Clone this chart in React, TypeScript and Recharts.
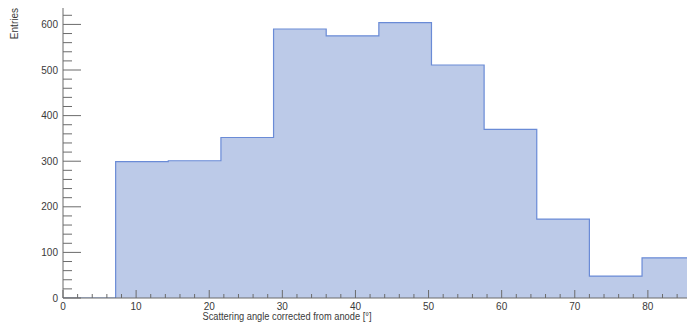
import React from "react";
import { ComposedChart, Area, XAxis, YAxis } from "recharts";

// histogram bins: lower edges in degrees and the entries in each bin
const binEdges = [0, 7.2, 14.4, 21.6, 28.8, 36, 43.2, 50.4, 57.6, 64.8, 72, 79.2, 86.4];
const binWidth = 7.2;
const entries = [0, 299, 301, 352, 590, 575, 604, 511, 370, 173, 48, 88, 0];

const xTicks = [0, 2, 4, 6, 8, 10, 12, 14, 16, 18, 20, 22, 24, 26, 28, 30, 32, 34, 36, 38, 40, 42, 44, 46, 48, 50, 52, 54, 56, 58, 60, 62, 64, 66, 68, 70, 72, 74, 76, 78, 80, 82, 84, 86, 88];
const yTicks = [0, 20, 40, 60, 80, 100, 120, 140, 160, 180, 200, 220, 240, 260, 280, 300, 320, 340, 360, 380, 400, 420, 440, 460, 480, 500, 520, 540, 560, 580, 600, 620];

// one point per bin edge, plus a closing point so the last step is drawn
const histData = [
  ...binEdges.map((x, i) => ({ x, count: entries[i] })),
  { x: binEdges[binEdges.length - 1] + binWidth, count: entries[entries.length - 1] },
];

const TEXT = "#3a3a3a";
const AXIS = "#6b6b6b";
const FONT = "'Liberation Sans', Arial, sans-serif";

// ROOT-style ticks: drawn inward from the axis line, labels only on major ticks
const XTick = (props: any) => {
  const { x, y, payload } = props;
  const v = payload.value as number;
  const major = v % 10 === 0;
  return (
    <g>
      <line x1={x} x2={x} y1={y} y2={y - (major ? 8 : 4)} stroke={AXIS} strokeWidth={1} />
      {major && (
        <text x={x} y={y + 12} textAnchor="middle" fontSize={10} fill={TEXT} fontFamily={FONT}>
          {v}
        </text>
      )}
    </g>
  );
};

const YTick = (props: any) => {
  const { x, y, payload } = props;
  const v = payload.value as number;
  const major = v % 100 === 0;
  return (
    <g>
      <line x1={x} x2={x + (major ? 18 : 9)} y1={y} y2={y} stroke={AXIS} strokeWidth={1} />
      {major && (
        <text x={x - 5} y={y + 3.5} textAnchor="end" fontSize={10} fill={TEXT} fontFamily={FONT}>
          {v}
        </text>
      )}
    </g>
  );
};

export default function App() {
  return (
    <div
      style={{
        position: "fixed",
        left: 0,
        top: 0,
        width: 687,
        height: 326,
        overflow: "hidden",
        background: "#fff",
      }}
    >
      <ComposedChart
        width={740}
        height={326}
        data={histData}
        margin={{ top: 8, right: 19, bottom: 0, left: 8 }}
      >
        <XAxis
          xAxisId="frame"
          orientation="top"
          type="number"
          dataKey="x"
          domain={[0, 90]}
          height={0}
          tick={false}
          tickLine={false}
          axisLine={{ stroke: "#9a9a9a" }}
        />
        <XAxis
          type="number"
          dataKey="x"
          domain={[0, 90]}
          ticks={xTicks}
          interval={0}
          tickSize={0}
          tickMargin={0}
          tickLine={false}
          tick={<XTick />}
          axisLine={{ stroke: AXIS }}
          height={28}
          allowDataOverflow
        />
        <YAxis
          type="number"
          domain={[0, 636]}
          ticks={yTicks}
          interval={0}
          tickSize={0}
          tickMargin={0}
          tickLine={false}
          tick={<YTick />}
          axisLine={{ stroke: AXIS }}
          width={55}
          allowDataOverflow
        />
        <Area
          type="stepAfter"
          dataKey="count"
          stroke="#6a8bd6"
          strokeWidth={1.2}
          fill="#bccae8"
          fillOpacity={1}
          isAnimationActive={false}
          dot={false}
          activeDot={false}
        />
        <text
          x={287}
          y={320}
          textAnchor="middle"
          fontSize={10}
          fill={TEXT}
          fontFamily={FONT}
          textLength={169}
          lengthAdjust="spacingAndGlyphs"
        >
          Scattering angle corrected from anode [°]
        </text>
        <text
          x={18}
          y={8}
          transform="rotate(-90 18 8)"
          textAnchor="end"
          fontSize={10}
          fill={TEXT}
          fontFamily={FONT}
        >
          Entries
        </text>
      </ComposedChart>
    </div>
  );
}
